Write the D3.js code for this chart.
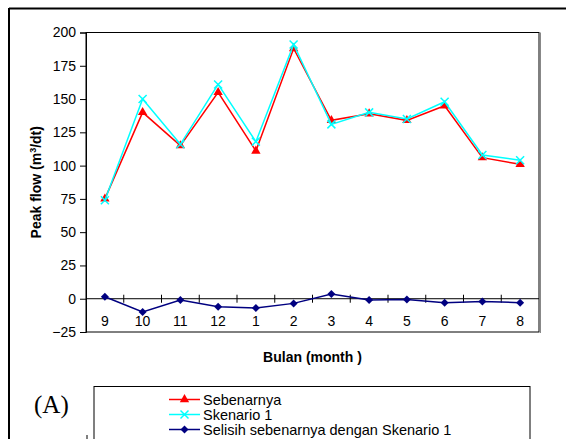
<!DOCTYPE html>
<html><head><meta charset="utf-8">
<script src="https://cdn.jsdelivr.net/npm/d3@7"></script>
<style>body{margin:0;background:#fff}svg{display:block}</style>
</head><body>
<svg id="c" width="566" height="439"></svg>
<script>
const months = ["9","10","11","12","1","2","3","4","5","6","7","8"];
const sebenarnya = [75,140,115,155,111,188,134,139,134,145,106,101];
const skenario1 = [74,150,116,161,118,191,131,140,135,148,108,104];
const selisih = [1.5,-10,-1,-6,-7,-3.5,3.5,-1,-0.5,-3,-2,-3];
const yTicks = [-25,0,25,50,75,100,125,150,175,200];
const seriesNames = ["Sebenarnya","Skenario 1","Selisih sebenarnya dengan Skenario 1"];

const svg = d3.select("#c");
const L=86, R=539, T=32.5, B=332;
const font = "Liberation Sans, Arial, sans-serif";

// outer frame
svg.append("line").attr("x1",9).attr("x2",570).attr("y1",8.5).attr("y2",8.5).attr("stroke","#000").attr("stroke-width",2);
svg.append("line").attr("x1",9).attr("x2",9).attr("y1",8).attr("y2",445).attr("stroke","#000").attr("stroke-width",2);

const x = d3.scaleBand().domain(months).range([L,R]);
const y = d3.scaleLinear().domain([-25,200]).range([B,T]);

// plot border
svg.append("rect").attr("x",L).attr("y",T).attr("width",R-L).attr("height",B-T)
  .attr("fill","none").attr("stroke","#000").attr("stroke-width",1);
svg.append("line").attr("x1",R+1.5).attr("x2",R+1.5).attr("y1",T).attr("y2",B+1).attr("stroke","#888").attr("stroke-width",1);

// y axis
const ya = svg.append("g").attr("transform",`translate(${L},0)`)
  .call(d3.axisLeft(y).tickValues(yTicks).tickSize(6).tickPadding(4));
ya.select(".domain").attr("stroke","#000");
ya.selectAll("text").attr("font-family",font).attr("font-size",14).attr("fill","#000");

// x axis at zero
const y0 = y(0);
svg.append("line").attr("x1",L).attr("x2",R).attr("y1",y0).attr("y2",y0).attr("stroke","#000");
const bounds = months.map(m=>x(m)).concat([R]);
svg.selectAll(".xt").data(bounds.slice(1,-1)).enter().append("line")
  .attr("x1",d=>d).attr("x2",d=>d).attr("y1",y0-4).attr("y2",y0+4).attr("stroke","#000");
svg.selectAll(".xl").data(months).enter().append("text")
  .attr("x",d=>x(d)+x.bandwidth()/2).attr("y",y0+27).attr("text-anchor","middle")
  .attr("font-family",font).attr("font-size",14).text(d=>d);

// titles
svg.append("text").attr("transform",`translate(41,${(T+B)/2}) rotate(-90)`).attr("text-anchor","middle")
  .attr("font-family",font).attr("font-size",14).attr("font-weight","bold")
  .html('Peak flow  (m<tspan dy="-5" font-size="9">3</tspan><tspan dy="5">/dt)</tspan>');
svg.append("text").attr("x",(L+R)/2).attr("y",362).attr("text-anchor","middle")
  .attr("font-family",font).attr("font-size",14).attr("font-weight","bold").text("Bulan (month )");

const cx = d => x(d)+x.bandwidth()/2;
const line = d3.line().x((d,i)=>cx(months[i])).y(d=>y(d));

function tri(g,color){ g.append("path").attr("d",d3.symbol(d3.symbolTriangle,38)()).attr("fill",color); }
function cross(g,color){ g.append("path").attr("d","M-4,-4L4,4M-4,4L4,-4").attr("stroke",color).attr("stroke-width",1.5).attr("fill","none"); }
function diamond(g,color){ g.append("path").attr("d","M0,-4L4,0L0,4L-4,0Z").attr("fill",color); }

const series = [
  {vals:sebenarnya,color:"#ff0000",mk:tri},
  {vals:skenario1,color:"#00ffff",mk:cross},
  {vals:selisih,color:"#000080",mk:diamond}
];
series.forEach(s=>{
  svg.append("path").datum(s.vals).attr("d",line).attr("fill","none").attr("stroke",s.color).attr("stroke-width",1.5);
  s.vals.forEach((v,i)=>{ const g=svg.append("g").attr("transform",`translate(${cx(months[i])},${y(v)})`); s.mk(g,s.color); });
});

// legend
svg.append("rect").attr("x",94).attr("y",386.5).attr("width",436).attr("height",70).attr("fill","#fff").attr("stroke","#000");
svg.append("text").attr("x",34).attr("y",413).attr("font-family","Liberation Serif, Times New Roman, serif").attr("font-size",25).text("(A)");
series.forEach((s,i)=>{
  const ly = 399.5 + i*15;
  svg.append("line").attr("x1",169).attr("x2",200).attr("y1",ly).attr("y2",ly).attr("stroke",s.color).attr("stroke-width",1.5);
  const g = svg.append("g").attr("transform",`translate(184.5,${ly})`); s.mk(g,s.color);
  svg.append("text").attr("x",203).attr("y",ly+5).attr("font-family",font).attr("font-size",14.5).text(seriesNames[i]);
});
svg.append("line").attr("x1",87).attr("x2",87).attr("y1",435).attr("y2",440).attr("stroke","#000");
</script>
</body></html>
